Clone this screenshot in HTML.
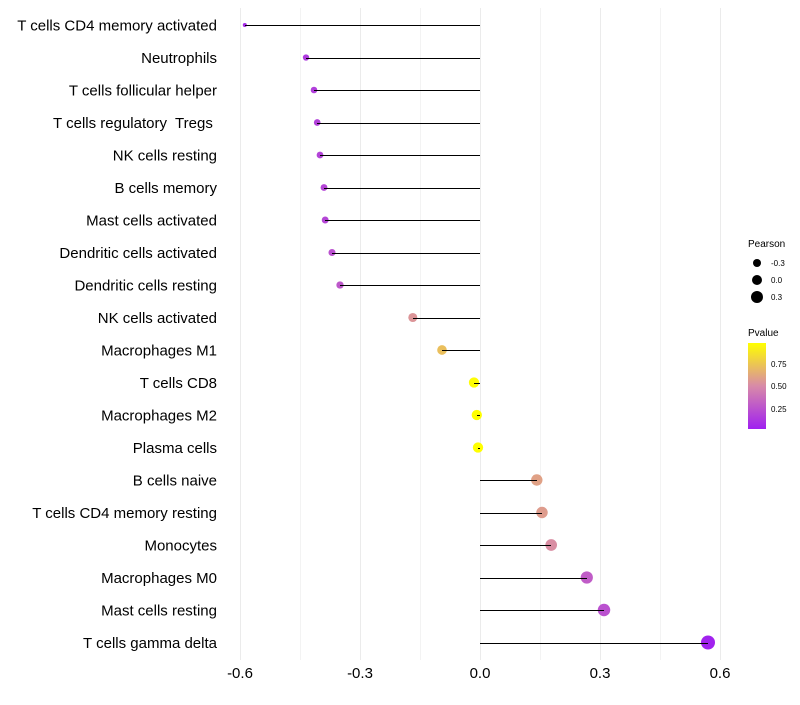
<!DOCTYPE html>
<html><head><meta charset="utf-8"><style>
body{margin:0;background:#fff;font-family:"Liberation Sans",sans-serif}
svg text{font-family:"Liberation Sans",sans-serif;white-space:pre}
</style></head><body>
<svg id="chart" width="800" height="700" xmlns="http://www.w3.org/2000/svg">
<defs><linearGradient id="pg" x1="0" y1="1" x2="0" y2="0">
<stop offset="0" stop-color="#A020F0"/><stop offset="0.5" stop-color="#D88AA8"/><stop offset="1" stop-color="#FFFF00"/>
</linearGradient></defs>
<g id="grid"></g>
<g id="marks"></g>
<g id="ylabels"></g>
<g id="xlabels"></g>
<g>
<text x="748" y="247" font-size="10" fill="#000">Pearson</text>
<circle cx="757" cy="263" r="4" fill="#000"/><text x="771" y="266" font-size="8" fill="#000">-0.3</text>
<circle cx="757" cy="280" r="5" fill="#000"/><text x="771" y="283" font-size="8" fill="#000">0.0</text>
<circle cx="757" cy="297" r="6" fill="#000"/><text x="771" y="300" font-size="8" fill="#000">0.3</text>
</g>
<g>
<text x="748" y="336" font-size="10" fill="#000">Pvalue</text>
<rect x="748" y="343" width="18" height="86" fill="url(#pg)"/>
<text x="771" y="367" font-size="8" fill="#000">0.75</text>
<text x="771" y="389" font-size="8" fill="#000">0.50</text>
<text x="771" y="412" font-size="8" fill="#000">0.25</text>
</g>
</svg>
<script>
const categories=["T cells CD4 memory activated","Neutrophils","T cells follicular helper","T cells regulatory  Tregs ","NK cells resting","B cells memory","Mast cells activated","Dendritic cells activated","Dendritic cells resting","NK cells activated","Macrophages M1","T cells CD8","Macrophages M2","Plasma cells","B cells naive","T cells CD4 memory resting","Monocytes","Macrophages M0","Mast cells resting","T cells gamma delta"];
const pearson=[-0.588,-0.435,-0.415,-0.407,-0.40,-0.39,-0.387,-0.37,-0.35,-0.168,-0.095,-0.015,-0.008,-0.005,0.142,0.155,0.178,0.267,0.31,0.57];
const pvalues=[0.08,0.15,0.17,0.18,0.19,0.2,0.2,0.25,0.28,0.55,0.72,0.97,0.98,0.98,0.6,0.58,0.52,0.3,0.25,0.04];
const xTicks=[-0.6,-0.3,0.0,0.3,0.6];
const xTickLabels=["-0.6","-0.3","0.0","0.3","0.6"];
const NS="http://www.w3.org/2000/svg";
const xs=v=>480+v*400;
const ys=i=>25+i*32.5;
function mk(t,a,p){const e=document.createElementNS(NS,t);for(const k in a)e.setAttribute(k,a[k]);p.appendChild(e);return e;}
function lerp(a,b,t){return a.map((x,i)=>Math.round(x+(b[i]-x)*t));}
function col(p){const lo=[160,32,240],mid=[216,138,168],hi=[255,255,0];const t=Math.max(0,Math.min(1,(p-0.03)/0.95));const c=t<0.5?lerp(lo,mid,t/0.5):lerp(mid,hi,(t-0.5)/0.5);return `rgb(${c})`;}
const grid=document.getElementById('grid');
for(let v=-0.6;v<=0.61;v+=0.15){const major=Math.abs(Math.round(v/0.3)*0.3-v)<0.01;const l=mk('line',{x1:Math.round(xs(v))+0.5,x2:Math.round(xs(v))+0.5,y1:8,y2:660,stroke:major?'#ebebeb':'#f3f3f3','stroke-width':1},grid);

}
const marks=document.getElementById('marks'),yl=document.getElementById('ylabels'),xl=document.getElementById('xlabels');
categories.forEach((c,i)=>{
const r=Math.sqrt(Math.max(3,26.9+38.8*pearson[i]));
const d=mk('circle',{cx:xs(pearson[i]),cy:ys(i),r:r,fill:col(pvalues[i])},marks);


const yy=Math.round(ys(i))+0.5;
const s=mk('line',{x1:xs(0),x2:xs(pearson[i]),y1:yy,y2:yy,stroke:'#000','stroke-width':1,'shape-rendering':'crispEdges'},marks);


const t=mk('text',{x:217,y:ys(i)+5.5,'text-anchor':'end','font-size':15,fill:'#000'},yl);t.textContent=c;


});
xTicks.forEach((v,i)=>{const t=mk('text',{x:xs(v),y:678,'text-anchor':'middle','font-size':15,fill:'#000'},xl);t.textContent=xTickLabels[i];

});
</script>
</body></html>
